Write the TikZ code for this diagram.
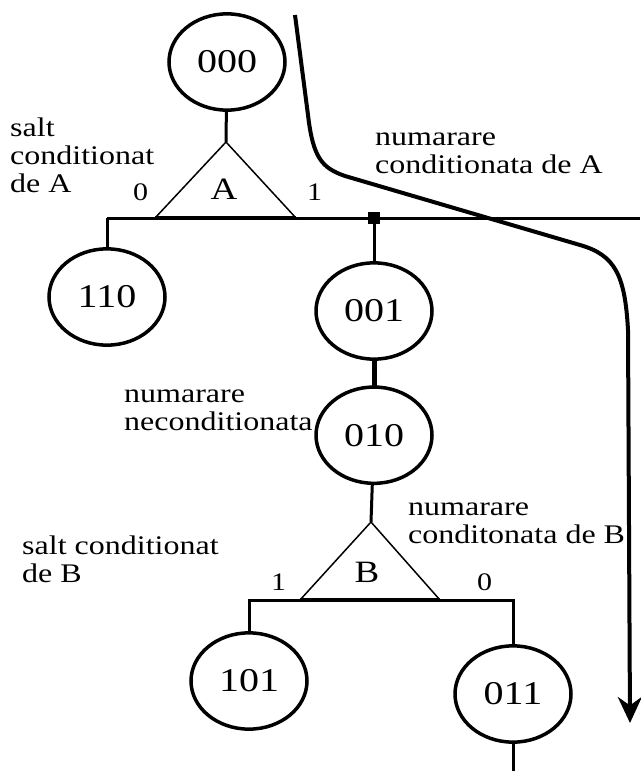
\documentclass[tikz,border=0pt]{standalone}
\usepackage{fontspec}
\setmainfont{Liberation Serif}
\usetikzlibrary{arrows.meta,positioning}

\begin{document}
\begin{tikzpicture}[x=1pt,y=-1pt,
state/.style={circle, draw=black, line width=3.5pt, minimum size=116pt, inner sep=0pt, yscale=0.83, font=\fontsize{40}{40}\selectfont},
lbl/.style={inner sep=0pt, anchor=base west, align=left, yscale=0.84, font=\fontsize{32}{33}\selectfont},
bit/.style={inner sep=0pt, anchor=base west, yscale=0.84, font=\fontsize{30}{30}\selectfont},
var/.style={inner sep=0pt, anchor=base, yscale=0.84, font=\fontsize{37}{37}\selectfont},
wire/.style={line width=3pt},
]
\useasboundingbox (0,0) rectangle (640,771);

\node[state] (s000) at (227,62) {000};
\node[state] (s110) at (107,297) {110};
\node[state] (s001) at (374,311) {001};
\node[state, below=25pt of s001] (s010) {010};
\node[state] (s101) at (249,681) {101};
\node[state] (s011) at (513,694) {011};

% test A
\coordinate (Atop) at (226,142);
\coordinate (Aleft) at (155,218);
\coordinate (Aright) at (296,218);
\coordinate (barAl) at (107,218);
\coordinate (barAr) at (640,218);
\node[fill=black, minimum size=12pt, inner sep=0pt] (tap) at (374,218) {};

% test B
\coordinate (Btop) at (371,522);
\coordinate (Bleft) at (300,600);
\coordinate (Bright) at (440,600);
\coordinate (barBl) at (249,600);
\coordinate (barBr) at (513,600);
\coordinate (exit) at (513,771);

\draw[line width=1.5pt] (Aleft) -- (Atop) -- (Aright);
\draw[line width=4.5pt] (Aleft) -- (Aright);
\draw[line width=1.5pt] (Bleft) -- (Btop) -- (Bright);
\draw[line width=4.5pt] (Bleft) -- (Bright);

\node[var] (varA) at (224,199) {A};
\node[var] (varB) at (367,582) {B};
\node[bit] (a0) at (133,200) {0};
\node[bit] (a1) at (307,200) {1};
\node[bit] (b1) at (271,590) {1};
\node[bit] (b0) at (477,590) {0};

\draw[wire] (s000) -- (Atop);
\draw[wire] (barAl) -- (barAr);
\draw[wire] (barAl) -- (s110);
\draw[wire] (tap) -- (s001);
\draw[line width=5pt] (s001) -- (s010);
\draw[wire] (s010) -- (Btop);
\draw[wire] (s101) -- (barBl) -- (barBr) -- (s011);
\draw[wire] (s011) -- (exit);

% base = last line
\node[lbl] (saltA) at (10,192) {salt\\conditionat\\de A};
\node[lbl] (numA) at (375,173) {numarare\\conditionata de A};
\node[lbl] (numU) at (124,430) {numarare\\neconditionata};
\node[lbl] (numB) at (408,543) {numarare\\conditonata de B};
\node[lbl] (saltB) at (22,582) {salt conditionat\\de B};

% flow of the counter
\coordinate (flowin) at (295,15);
\coordinate (flowout) at (630,723);
\draw[line width=4pt, -{Stealth[length=26pt, width=24pt]}] (flowin) -- (308,115)
  .. controls (313,158) and (322,168) .. (345,176) -- (580,245)
  .. controls (615,255) and (625,275) .. (628,330) -- (flowout);

\end{tikzpicture}
\end{document}
